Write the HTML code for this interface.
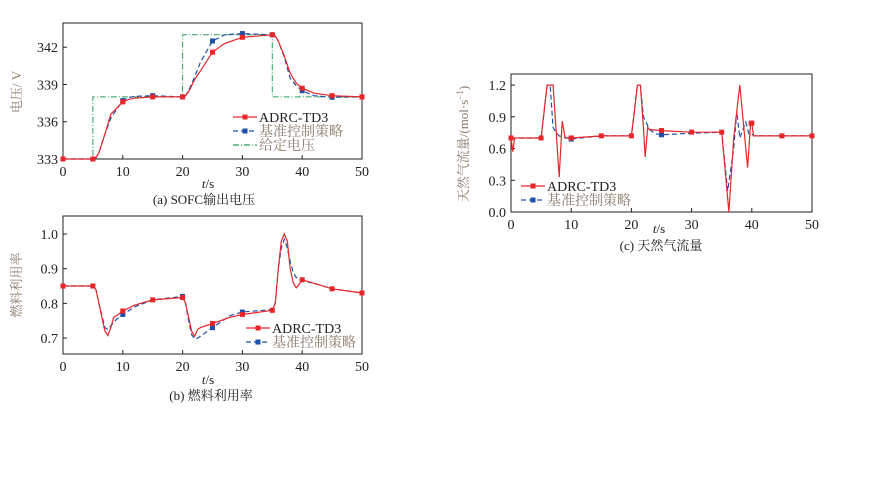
<!DOCTYPE html>
<html><head><meta charset="utf-8">
<style>
html,body{margin:0;padding:0;background:#fff;}
svg{display:block;font-family:"Liberation Serif","Noto Serif CJK SC",serif;}
.tk{font-size:14px;fill:#222;}
.lab{font-size:13px;fill:#8a7a6a;}
.cap{font-size:13px;fill:#222;}
</style></head>
<body>
<svg id="svg" width="888" height="500" viewBox="0 0 888 500"></svg>
<script>
// ---- Chart (a) data: SOFC output voltage ----
const aT_adrc = [0,5,5.5,6,7,8,9,10,11,12,15,20,20.5,21,22,23,25,27,30,35,35.5,36,37,38,39,40,42,45,50];
const aV_adrc = [333,333,333.1,333.5,335,336.6,337.1,337.6,337.8,337.9,338,338,338.1,338.4,339.4,340.1,341.6,342.3,342.8,343,342.9,342.5,341.3,339.9,339.1,338.7,338.3,338.1,338];
const aT_base = [0,5,5.5,6,7,8,9,10,11,12,15,20,20.5,21,22,23,25,27,30,35,35.5,36,37,38,39,40,42,45,50];
const aV_base = [333,333,333.1,333.5,335,336.3,337.0,337.7,337.95,338.05,338.1,338,338.1,338.5,339.6,340.8,342.5,343,343.1,343,342.9,342.5,341.2,339.5,338.9,338.5,338.1,337.97,338];
const aT_set = [0,5,5,20,20,35,35,50];
const aV_set = [333,333,338,338,343,343,338,338];
// ---- Chart (b) data: fuel utilization ----
const bT = [0,5,5.5,6,7,7.5,8,8.5,9,10,12,15,20,20.5,21,21.5,22,22.5,23,25,28,30,35,35.5,36,36.5,37,37.5,38,38.5,39,39.5,40,42,45,50];
const bU_adrc = [.85,.85,.84,.8,.72,.707,.73,.76,.765,.778,.795,.81,.817,.8,.76,.72,.705,.725,.73,.742,.76,.768,.78,.8,.9,.98,1.0,.98,.9,.86,.845,.855,.868,.858,.842,.83];
const bU_base = [.85,.85,.84,.8,.73,.725,.735,.745,.755,.768,.79,.81,.82,.8,.75,.71,.698,.7,.705,.73,.765,.775,.782,.8,.9,.96,.985,.96,.92,.89,.875,.87,.865,.858,.842,.83];
// ---- Chart (c) data: natural gas flow ----
const cT_adrc = [0,0.3,0.6,5,6,6.5,7,8,8.5,9,10,15,20,20.5,21,21.5,22,22.3,22.7,23,25,30,35,36.2,37,38,39.3,39.8,40,40.3,45,50];
const cF_adrc = [.7,.57,.7,.7,1.2,1.2,1.2,.33,.86,.7,.7,.72,.72,.95,1.2,1.2,.8,.52,.8,.78,.77,.755,.755,0.0,.7,1.2,.42,.84,.84,.72,.72,.72];
const cT_base = [0,5,6,6.5,7,7.5,8,10,15,20,21,21.5,22,23,24,25,30,35,36,37,37.5,38,39,39.5,40,40.3,45,50];
const cF_base = [.7,.7,1.2,1.2,.8,.75,.72,.69,.72,.72,1.2,1.2,.9,.78,.74,.73,.745,.755,.2,.6,.95,.7,.85,.74,.74,.72,.72,.72];
const markT = [0,5,10,15,20,25,30,35,40,45,50];
const xTicks = [0,10,20,30,40,50];
const aTicks = [333,336,339,342];
const bTicks = [0.7,0.8,0.9,1.0];
const cTicks = [0.0,0.3,0.6,0.9,1.2];

const NS="http://www.w3.org/2000/svg";
const svg=document.getElementById('svg');
function mk(tag,attrs,parent){const e=document.createElementNS(NS,tag);for(const k in attrs)e.setAttribute(k,attrs[k]);(parent||svg).appendChild(e);return e;}
function interp(T,V,t){for(let i=0;i<T.length-1;i++){if(t>=T[i]&&t<=T[i+1]){if(T[i+1]===T[i])return V[i+1];return V[i]+(V[i+1]-V[i])*(t-T[i])/(T[i+1]-T[i]);}}return V[V.length-1];}

function chart(name,box,ymin,ymax,yt,fmt){
  const g=mk('g',{});
  
  
  const sx=t=>box.x0+(t-0)/50*(box.x1-box.x0);
  const sy=v=>box.y1-(v-ymin)/(ymax-ymin)*(box.y1-box.y0);
  const r=mk('rect',{x:box.x0,y:box.y0,width:box.x1-box.x0,height:box.y1-box.y0,fill:'none',stroke:'#222','stroke-width':1},g);
  
  
  xTicks.forEach(t=>{
    mk('line',{x1:sx(t),x2:sx(t),y1:box.y1,y2:box.y1-4,stroke:'#222'},g);
    const tx=mk('text',{x:sx(t),y:box.y1+17,'text-anchor':'middle',class:'tk'},g);
    tx.textContent=t;
    
    
  });
  yt.forEach(v=>{
    mk('line',{x1:box.x0,x2:box.x0+4,y1:sy(v),y2:sy(v),stroke:'#222'},g);
    const tx=mk('text',{x:box.x0-5,y:sy(v)+5,'text-anchor':'end',class:'tk'},g);
    tx.textContent=fmt(v);
    
    
  });
  return {g,sx,sy};
}
function series(c,T,V,color,dash,name,markers,width){
  const pts=T.map((t,i)=>c.sx(t).toFixed(1)+','+c.sy(V[i]).toFixed(1)).join(' ');
  const p=mk('polyline',{points:pts,fill:'none',stroke:color,'stroke-width':width||1.2,'stroke-dasharray':dash||'none'},c.g);
  
  
  (markers||[]).forEach(t=>{
    const v=interp(T,V,t);
    const m=mk('rect',{x:c.sx(t)-2.5,y:c.sy(v)-2.5,width:5,height:5,fill:color},c.g);
    
    
  });
}
function legend(x,y,items){
  items.forEach((it,i)=>{
    const yy=y+i*14;
    mk('line',{x1:x,x2:x+24,y1:yy,y2:yy,stroke:it.c,'stroke-width':1.2,'stroke-dasharray':it.d||'none'});
    if(it.m) mk('rect',{x:x+9.5,y:yy-2.5,width:5,height:5,fill:it.c});
    const t=mk('text',{x:x+26,y:yy+5,class:'cap',style:'font-size:14px;fill:'+(it.tc||'#222')});
    t.textContent=it.l;
    
    
  });
}
function text(x,y,s,cls,name,rot,anchor){
  const t=mk('text',{x:x,y:y,class:cls,'text-anchor':anchor||'middle'});
  if(rot) t.setAttribute('transform','rotate(-90 '+x+' '+y+')');
  t.innerHTML=s;
  
  
  return t;
}
const RED='#e8262a', BLUE='#1f4fa8', GREEN='#2e9e5a';

// (a)
const A=chart('chart-a-voltage',{x0:63,x1:362,y0:23,y1:159},333,343.95,aTicks,v=>v);
series(A,aT_set,aV_set,GREEN,'6,2,1,2','setpoint-line',null,1);
series(A,aT_base,aV_base,BLUE,'5,3','baseline-line',markT);
series(A,aT_adrc,aV_adrc,RED,null,'adrc-line',markT);
legend(233,117,[{c:RED,l:'ADRC-TD3',m:1},{c:BLUE,d:'5,3',l:'基准控制策略',m:1,tc:'#8a7a6a'},{c:GREEN,d:'6,2,1,2',l:'给定电压',tc:'#8a7a6a'}]);
text(208,188,'<tspan font-style="italic">t</tspan>/s','cap','x-axis-title-a');
text(204,204,'(a) SOFC输出电压','cap','caption-a');
text(21,92,'电压/ V','lab','y-axis-title-a',true);

// (b)
const B=chart('chart-b-fuel',{x0:63,x1:362,y0:216,y1:354},0.654,1.052,bTicks,v=>v.toFixed(1));
series(B,bT,bU_base,BLUE,'5,3','baseline-line',[0,10,20,25,30]);
series(B,bT,bU_adrc,RED,null,'adrc-line',markT);
legend(246,328,[{c:RED,l:'ADRC-TD3',m:1},{c:BLUE,d:'5,3',l:'基准控制策略',m:1,tc:'#8a7a6a'}]);
text(208,384,'<tspan font-style="italic">t</tspan>/s','cap','x-axis-title-b');
text(211,400,'(b) 燃料利用率','cap','caption-b');
text(21,285,'燃料利用率','lab','y-axis-title-b',true);

// (c)
const C=chart('chart-c-gasflow',{x0:511,x1:812,y0:74,y1:212},0,1.305,cTicks,v=>v.toFixed(1));
series(C,cT_base,cF_base,BLUE,'5,3','baseline-line',[10,25]);
series(C,cT_adrc,cF_adrc,RED,null,'adrc-line',markT.concat([39.9]));
legend(521,186,[{c:RED,l:'ADRC-TD3',m:1},{c:BLUE,d:'5,3',l:'基准控制策略',m:1,tc:'#8a7a6a'}]);
text(659,233,'<tspan font-style="italic">t</tspan>/s','cap','x-axis-title-c');
text(661,250,'(c) 天然气流量','cap','caption-c');
text(468,144,'天然气流量/(mol·s<tspan baseline-shift="super" font-size="9">−1</tspan>)','lab','y-axis-title-c',true);
</script>
</body></html>
